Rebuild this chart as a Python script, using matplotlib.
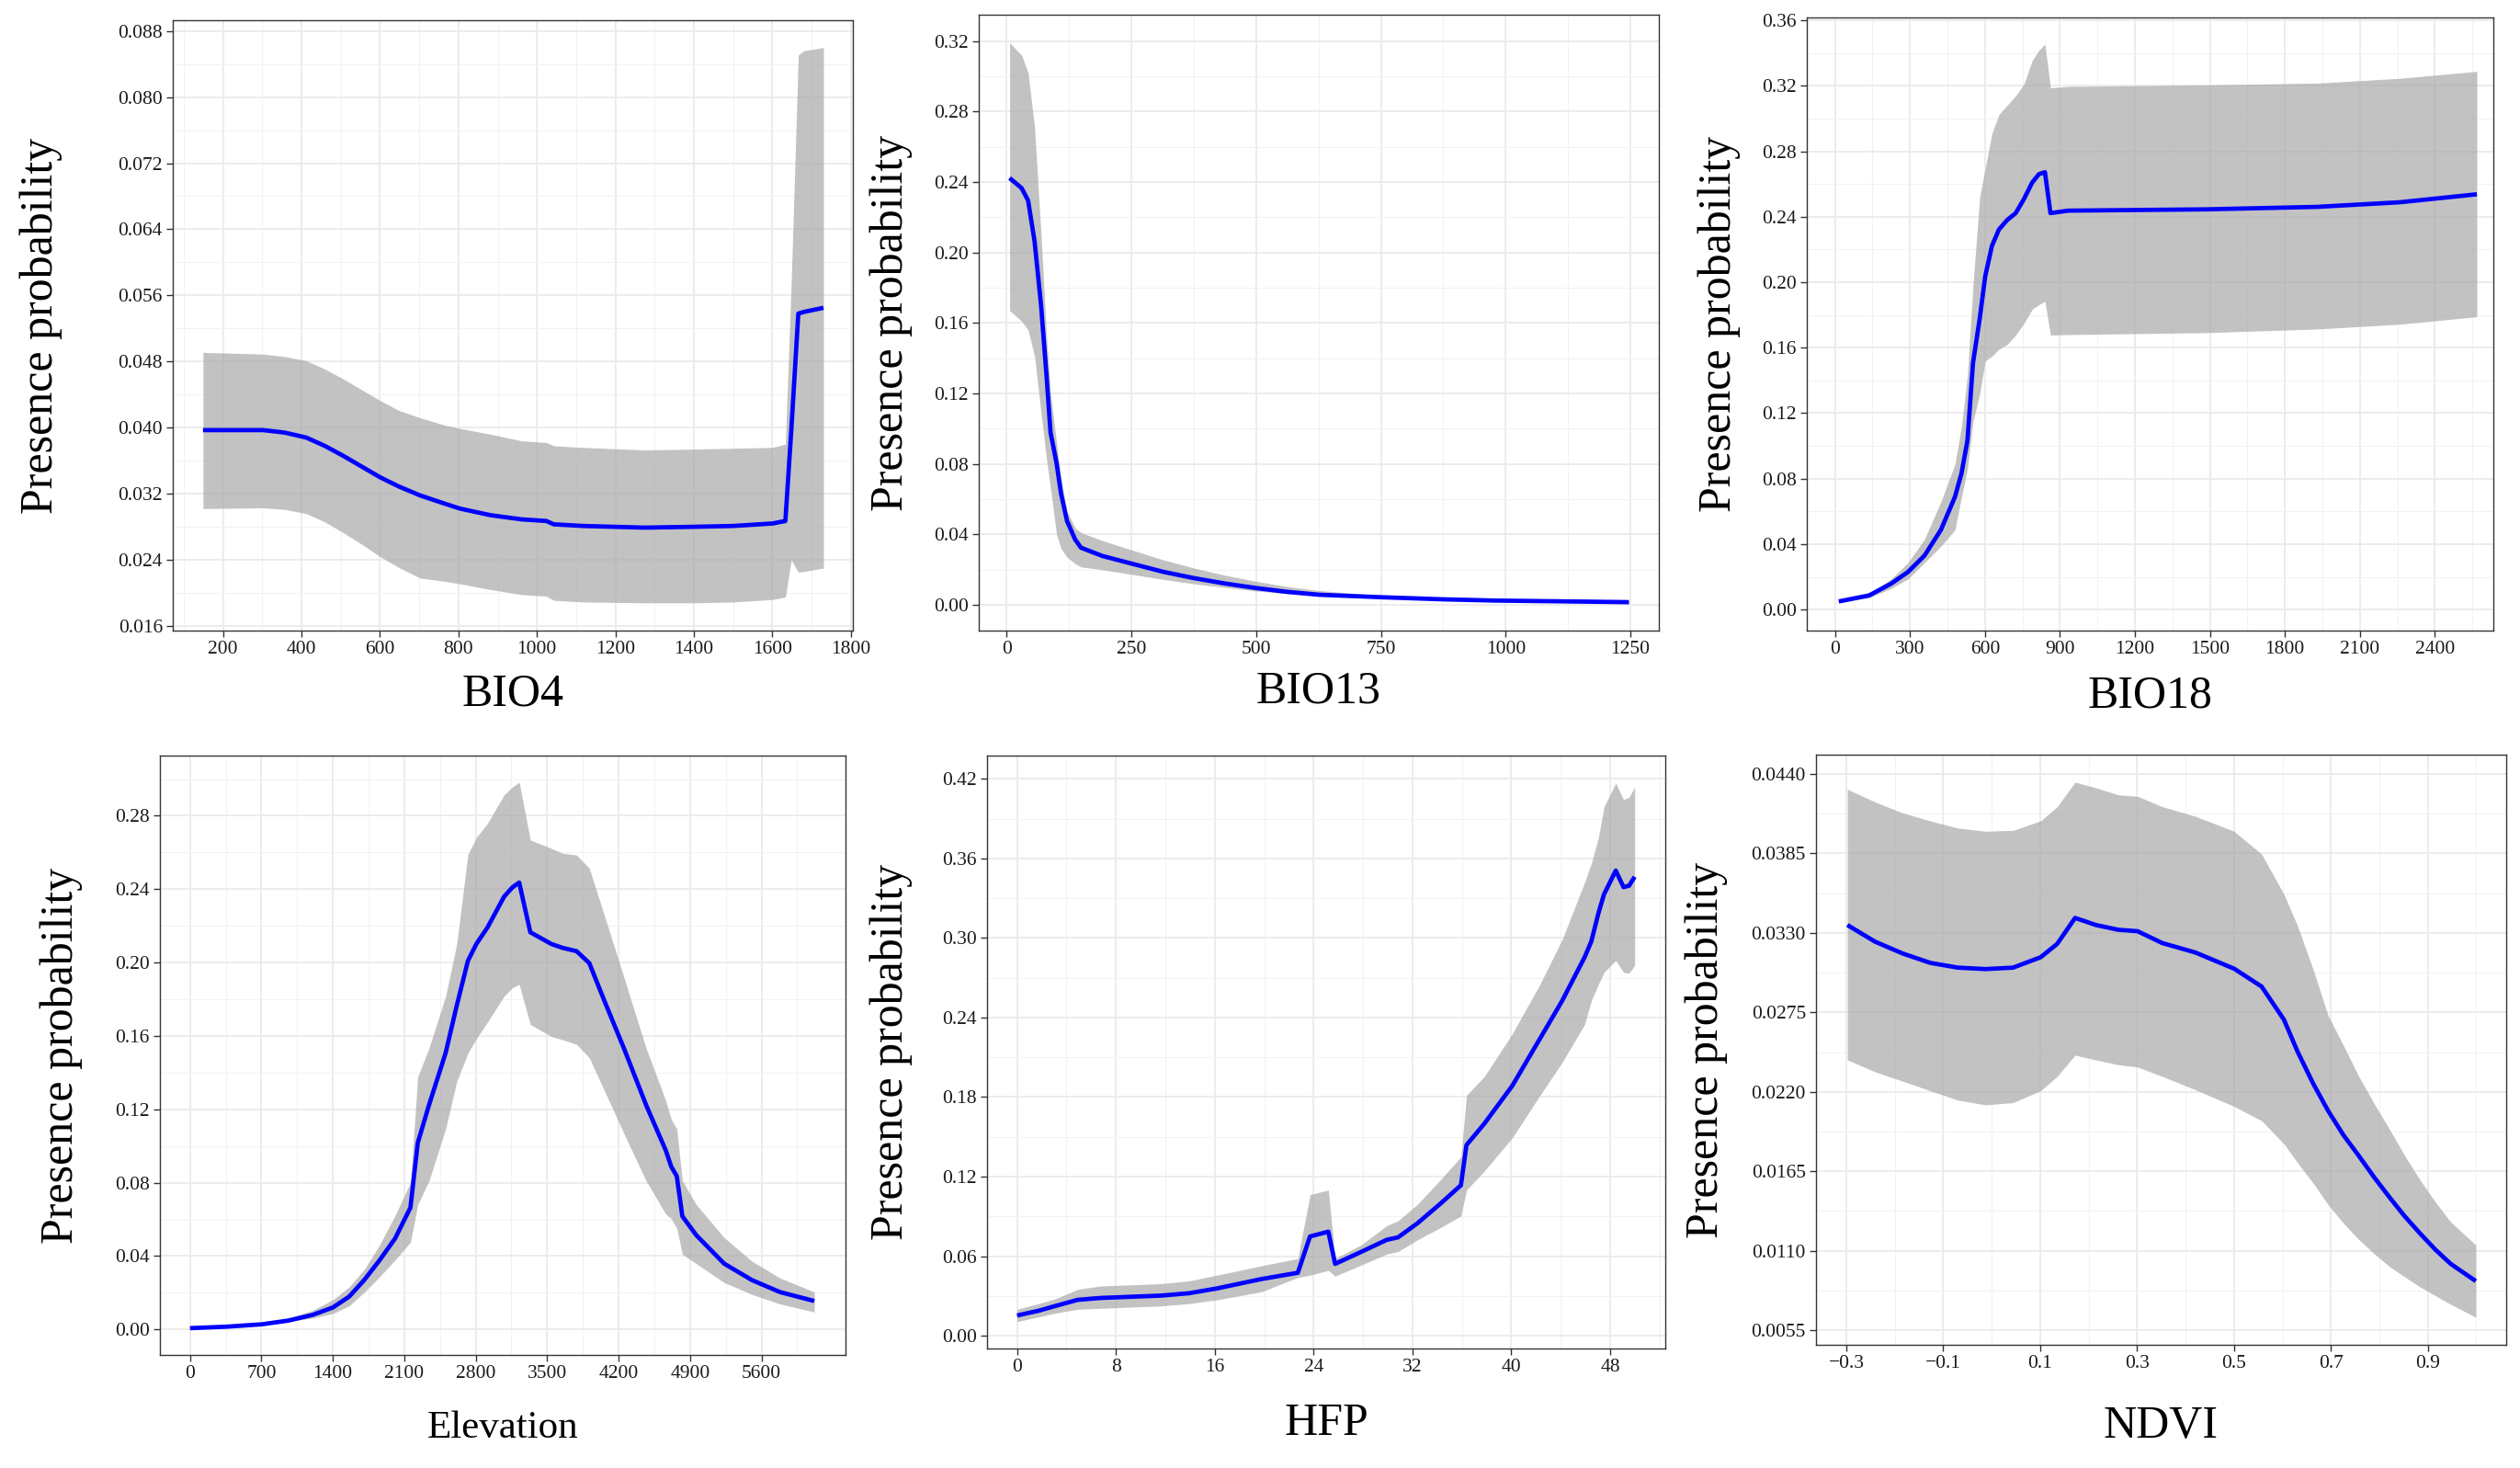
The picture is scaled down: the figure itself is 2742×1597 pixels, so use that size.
import matplotlib
matplotlib.use("Agg")
import matplotlib.pyplot as plt
from matplotlib.ticker import FixedLocator, FuncFormatter

plt.rcParams['font.family'] = ['Liberation Serif', 'DejaVu Serif']

# ---------------- data ----------------
bio4_x = [149, 302, 357, 412, 459, 506, 553, 600, 647, 702, 765, 804, 882, 961, 1024, 1043, 1118, 1274, 1400, 1500, 1600, 1633, 1648, 1666, 1680, 1730]
bio4_fit = [0.0397, 0.0397, 0.0394, 0.0388, 0.0378, 0.0366, 0.0353, 0.0340, 0.0329, 0.0318, 0.0308, 0.0302, 0.0294, 0.0289, 0.0287, 0.0283, 0.0281, 0.0279, 0.0280, 0.0281, 0.0284, 0.0287, 0.0396, 0.0538, 0.0540, 0.0545]
bio4_hi = [0.0491, 0.0489, 0.0486, 0.0481, 0.0471, 0.0459, 0.0446, 0.0433, 0.0421, 0.0412, 0.0403, 0.0399, 0.0392, 0.0384, 0.0382, 0.0378, 0.0376, 0.0373, 0.0374, 0.0375, 0.0376, 0.0380, 0.0576, 0.0851, 0.0856, 0.0860]
bio4_lo = [0.0302, 0.0303, 0.0301, 0.0296, 0.0286, 0.0273, 0.0259, 0.0244, 0.0231, 0.0218, 0.0214, 0.0211, 0.0204, 0.0198, 0.0196, 0.0191, 0.0189, 0.0188, 0.0188, 0.0189, 0.0192, 0.0195, 0.0240, 0.0225, 0.0226, 0.0230]

bio13_x = [6, 30, 43, 56, 69, 80, 88, 100, 109, 121, 137, 149, 192, 250, 314, 376, 437, 500, 560, 626, 750, 875, 979, 1247]
bio13_fit = [0.2422, 0.2365, 0.2295, 0.2063, 0.170, 0.130, 0.0978, 0.0805, 0.0632, 0.0476, 0.0372, 0.0324, 0.0277, 0.0234, 0.0187, 0.0151, 0.0121, 0.0095, 0.0074, 0.0057, 0.0043, 0.0031, 0.0024, 0.0015]
bio13_hi = [0.319, 0.312, 0.302, 0.271, 0.210, 0.152, 0.120, 0.092, 0.072, 0.053, 0.0437, 0.0410, 0.0364, 0.0312, 0.0255, 0.0208, 0.0168, 0.0133, 0.0104, 0.0081, 0.0052, 0.0035, 0.0027, 0.0017]
bio13_lo = [0.167, 0.161, 0.156, 0.141, 0.109, 0.0826, 0.066, 0.040, 0.032, 0.027, 0.0234, 0.0215, 0.0199, 0.0173, 0.0144, 0.0119, 0.0099, 0.0078, 0.0064, 0.0052, 0.0038, 0.0029, 0.0020, 0.0011]

bio18_x = [15, 137, 225, 292, 358, 424, 480, 506, 530, 552, 579, 601, 628, 656, 689, 723, 756, 789, 816, 840, 862, 933, 1485, 1927, 2258, 2568]
bio18_fit = [0.0050, 0.0087, 0.0159, 0.0230, 0.0330, 0.0488, 0.0689, 0.0832, 0.1033, 0.1505, 0.1777, 0.2036, 0.2222, 0.2322, 0.2380, 0.2422, 0.2508, 0.2609, 0.2660, 0.2672, 0.2422, 0.2437, 0.2445, 0.2460, 0.2488, 0.2537]
bio18_hi = [0.0059, 0.0100, 0.0188, 0.0287, 0.0430, 0.0660, 0.0889, 0.1118, 0.1433, 0.1978, 0.2523, 0.2695, 0.2910, 0.3024, 0.3081, 0.3139, 0.3210, 0.3354, 0.3417, 0.3454, 0.3187, 0.3196, 0.3205, 0.3216, 0.3245, 0.3288]
bio18_lo = [0.0044, 0.0073, 0.0130, 0.0188, 0.0287, 0.0388, 0.0487, 0.0689, 0.0860, 0.1147, 0.1319, 0.1519, 0.1548, 0.1591, 0.1620, 0.1677, 0.1749, 0.1835, 0.1863, 0.1883, 0.1677, 0.1680, 0.1692, 0.1714, 0.1743, 0.1789]

elev_x = [0, 360, 705, 960, 1200, 1401, 1560, 1710, 1860, 2010, 2160, 2232, 2342, 2505, 2614, 2724, 2806, 2915, 3078, 3160, 3226, 3335, 3542, 3651, 3788, 3913, 4061, 4252, 4470, 4661, 4716, 4770, 4825, 4961, 5234, 5507, 5780, 6118]
elev_fit = [0.0007, 0.0015, 0.0028, 0.0048, 0.0079, 0.0120, 0.0179, 0.0271, 0.0379, 0.0496, 0.0664, 0.1017, 0.1223, 0.1507, 0.1765, 0.2010, 0.2101, 0.2191, 0.2359, 0.2410, 0.2436, 0.2165, 0.2101, 0.2080, 0.2062, 0.1997, 0.1791, 0.1533, 0.1223, 0.0978, 0.0888, 0.0836, 0.0617, 0.0514, 0.0359, 0.0269, 0.0204, 0.0155]
elev_hi = [0.0010, 0.0018, 0.0032, 0.0059, 0.0104, 0.0162, 0.0232, 0.0329, 0.0463, 0.0622, 0.0800, 0.1378, 0.1533, 0.1817, 0.2101, 0.2591, 0.2681, 0.2759, 0.2914, 0.2957, 0.2983, 0.2668, 0.2622, 0.2596, 0.2586, 0.2514, 0.2256, 0.1920, 0.1533, 0.1249, 0.1146, 0.1094, 0.0810, 0.0681, 0.0501, 0.0372, 0.0281, 0.0204]
elev_lo = [0.0003, 0.0010, 0.0025, 0.0042, 0.0062, 0.0087, 0.0129, 0.0204, 0.0288, 0.0379, 0.0475, 0.0681, 0.0810, 0.1094, 0.1352, 0.1507, 0.1585, 0.1675, 0.1817, 0.1863, 0.1881, 0.1662, 0.1597, 0.1579, 0.1554, 0.1481, 0.1301, 0.1068, 0.0810, 0.0630, 0.0604, 0.0552, 0.0410, 0.0359, 0.0256, 0.0191, 0.0139, 0.0095]

hfp_x = [0, 1.76, 3.11, 4.91, 6.72, 11.67, 13.93, 16.18, 19.79, 22.72, 23.71, 25.19, 25.74, 27.90, 29.93, 30.83, 32.41, 34.21, 35.92, 36.37, 37.81, 40.07, 42.32, 44.12, 45.93, 46.47, 47.05, 47.50, 48.45, 49.08, 49.53, 49.98]
hfp_fit = [0.0153, 0.0189, 0.0225, 0.0271, 0.0285, 0.0303, 0.0321, 0.0357, 0.0428, 0.0475, 0.0749, 0.0785, 0.0542, 0.0635, 0.0724, 0.0742, 0.0849, 0.0992, 0.1135, 0.1438, 0.1599, 0.1884, 0.2241, 0.2527, 0.2855, 0.2973, 0.3187, 0.3329, 0.3508, 0.3383, 0.3394, 0.3461]
hfp_hi = [0.0200, 0.0243, 0.0279, 0.0350, 0.0375, 0.0393, 0.0414, 0.0457, 0.0528, 0.0582, 0.1064, 0.1099, 0.0582, 0.0689, 0.0831, 0.0867, 0.0992, 0.1171, 0.1349, 0.1813, 0.1955, 0.2277, 0.2651, 0.2990, 0.3419, 0.3561, 0.3758, 0.3989, 0.4168, 0.4043, 0.4061, 0.4139]
hfp_lo = [0.0107, 0.0143, 0.0171, 0.0200, 0.0207, 0.0225, 0.0243, 0.0271, 0.0332, 0.0440, 0.0457, 0.0493, 0.0450, 0.0535, 0.0617, 0.0635, 0.0724, 0.0813, 0.0903, 0.1099, 0.1242, 0.1492, 0.1813, 0.2063, 0.2348, 0.2527, 0.2651, 0.2741, 0.2830, 0.2741, 0.2734, 0.2794]

ndvi_x = [-0.298, -0.241, -0.184, -0.127, -0.070, -0.013, 0.044, 0.101, 0.135, 0.172, 0.215, 0.261, 0.301, 0.352, 0.420, 0.500, 0.557, 0.603, 0.631, 0.663, 0.694, 0.726, 0.757, 0.789, 0.821, 0.852, 0.884, 0.915, 0.947, 0.999]
ndvi_fit = [0.03355, 0.0324, 0.03158, 0.03093, 0.0306, 0.0305, 0.0306, 0.03132, 0.03224, 0.03404, 0.03355, 0.03322, 0.03312, 0.0323, 0.03165, 0.03053, 0.02929, 0.0270, 0.0248, 0.0226, 0.0207, 0.0190, 0.0176, 0.0161, 0.0147, 0.0134, 0.0122, 0.0111, 0.0101, 0.0089]
ndvi_hi = [0.04295, 0.04207, 0.04131, 0.04076, 0.04026, 0.04004, 0.0401, 0.04076, 0.04174, 0.04344, 0.04305, 0.04256, 0.04246, 0.04174, 0.04108, 0.04004, 0.03846, 0.03568, 0.0335, 0.0305, 0.0273, 0.0252, 0.0231, 0.0212, 0.0194, 0.0176, 0.0159, 0.0144, 0.0130, 0.0114]
ndvi_lo = [0.02421, 0.02339, 0.02274, 0.02208, 0.02143, 0.0211, 0.02126, 0.02208, 0.02307, 0.02454, 0.02421, 0.02388, 0.02372, 0.02307, 0.02215, 0.0210, 0.0200, 0.0184, 0.0171, 0.0157, 0.0142, 0.0129, 0.0118, 0.0108, 0.0099, 0.0092, 0.0085, 0.0079, 0.0073, 0.0064]

# tick values
bio4_xticks = [200, 400, 600, 800, 1000, 1200, 1400, 1600, 1800]
bio4_yticks = [0.016, 0.024, 0.032, 0.040, 0.048, 0.056, 0.064, 0.072, 0.080, 0.088]
bio13_xticks = [0, 250, 500, 750, 1000, 1250]
bio13_yticks = [0.00, 0.04, 0.08, 0.12, 0.16, 0.20, 0.24, 0.28, 0.32]
bio18_xticks = [0, 300, 600, 900, 1200, 1500, 1800, 2100, 2400]
bio18_yticks = [0.00, 0.04, 0.08, 0.12, 0.16, 0.20, 0.24, 0.28, 0.32, 0.36]
elev_xticks = [0, 700, 1400, 2100, 2800, 3500, 4200, 4900, 5600]
elev_yticks = [0.00, 0.04, 0.08, 0.12, 0.16, 0.20, 0.24, 0.28]
hfp_xticks = [0, 8, 16, 24, 32, 40, 48]
hfp_yticks = [0.00, 0.06, 0.12, 0.18, 0.24, 0.30, 0.36, 0.42]
ndvi_xticks = [-0.3, -0.1, 0.1, 0.3, 0.5, 0.7, 0.9]
ndvi_yticks = [0.0055, 0.0110, 0.0165, 0.0220, 0.0275, 0.0330, 0.0385, 0.0440]

ylabel_text = "Presence probability"

# ---------------- layout ----------------
W, H = 2742, 1597
fig = plt.figure(figsize=(W / 100, H / 100), dpi=100)
fig.patch.set_facecolor('white')

panels = [
    dict(name="BIO4", x=bio4_x, fit=bio4_fit, lo=bio4_lo, hi=bio4_hi,
         xt=bio4_xticks, yt=bio4_yticks, xfmt="%d", yfmt="%.3f",
         box=(188, 928, 22, 686), xlim=(72, 1805), ylim=(0.01544, 0.0893),
         ylab_x=45, xlab_y=755, xlab_size=36),
    dict(name="BIO13", x=bio13_x, fit=bio13_fit, lo=bio13_lo, hi=bio13_hi,
         xt=bio13_xticks, yt=bio13_yticks, xfmt="%d", yfmt="%.2f",
         box=(1065, 1805, 16, 686), xlim=(-55.8, 1306.9), ylim=(-0.01464, 0.3349),
         ylab_x=970, xlab_y=752, xlab_size=36),
    dict(name="BIO18", x=bio18_x, fit=bio18_fit, lo=bio18_lo, hi=bio18_hi,
         xt=bio18_xticks, yt=bio18_yticks, xfmt="%d", yfmt="%.2f",
         box=(1966, 2713, 19, 686), xlim=(-112.7, 2634), ylim=(-0.0128, 0.3617),
         ylab_x=1871, xlab_y=757, xlab_size=36),
    dict(name="Elevation", x=elev_x, fit=elev_fit, lo=elev_lo, hi=elev_hi,
         xt=elev_xticks, yt=elev_yticks, xfmt="%d", yfmt="%.2f",
         box=(174, 920, 822, 1474), xlim=(-295, 6424), ylim=(-0.0139, 0.3128),
         ylab_x=67, xlab_y=1554, xlab_size=31),
    dict(name="HFP", x=hfp_x, fit=hfp_fit, lo=hfp_lo, hi=hfp_hi,
         xt=hfp_xticks, yt=hfp_yticks, xfmt="%d", yfmt="%.2f",
         box=(1074, 1812, 822, 1467), xlim=(-2.43, 52.46), ylim=(-0.0096, 0.4375),
         ylab_x=970, xlab_y=1549, xlab_size=36),
    dict(name="NDVI", x=ndvi_x, fit=ndvi_fit, lo=ndvi_lo, hi=ndvi_hi,
         xt=ndvi_xticks, yt=ndvi_yticks, xfmt="%.1f", yfmt="%.4f",
         box=(1976, 2727, 821, 1463), xlim=(-0.3627, 1.0618), ylim=(0.00449, 0.04534),
         ylab_x=1857, xlab_y=1552, xlab_size=36),
]


def make_fmt(f):
    return FuncFormatter(lambda v, pos: (f % v).replace('-', '\u2212'))


for p in panels:
    l, r, t, b = p["box"]
    ax = fig.add_axes([l / W, 1 - b / H, (r - l) / W, (b - t) / H])
    ax.set_facecolor('white')
    ax.fill_between(p["x"], p["lo"], p["hi"], color='#A6A6A6', alpha=0.68,
                    linewidth=0, zorder=2)
    ax.plot(p["x"], p["fit"], color='#0000FF', linewidth=3.4, zorder=3,
            solid_joinstyle='round', solid_capstyle='butt')
    ax.set_xlim(*p["xlim"])
    ax.set_ylim(*p["ylim"])

    xt = p["xt"]
    yt = p["yt"]
    ax.xaxis.set_major_locator(FixedLocator(xt))
    ax.yaxis.set_major_locator(FixedLocator(yt))
    dx = xt[1] - xt[0]
    dy = yt[1] - yt[0]
    xminor = [xt[0] - dx / 2] + [v + dx / 2 for v in xt]
    yminor = [yt[0] - dy / 2] + [v + dy / 2 for v in yt]
    ax.xaxis.set_minor_locator(FixedLocator(xminor))
    ax.yaxis.set_minor_locator(FixedLocator(yminor))
    ax.xaxis.set_major_formatter(make_fmt(p["xfmt"]))
    ax.yaxis.set_major_formatter(make_fmt(p["yfmt"]))

    ax.grid(which='major', color='#EBEBEB', linewidth=1.3, zorder=0)
    ax.grid(which='minor', color='#F2F2F2', linewidth=0.8, zorder=0)
    ax.set_axisbelow(True)

    ax.tick_params(which='major', length=5, width=1.0, color='#333333',
                   labelsize=15.5, labelcolor='#1A1A1A', pad=3)
    ax.tick_params(which='minor', length=0)
    for s in ax.spines.values():
        s.set_color('#333333')
        s.set_linewidth(1.0)

    cy = 1 - ((t + b) / 2) / H
    fig.text(p["ylab_x"] / W, cy, ylabel_text, rotation=90, ha='center',
             va='center', fontsize=36, color='black')
    fig.text(((l + r) / 2) / W, 1 - p["xlab_y"] / H, p["name"], ha='center',
             va='center', fontsize=p["xlab_size"], color='black')

fig.savefig("out.png", dpi=100, facecolor='white')
